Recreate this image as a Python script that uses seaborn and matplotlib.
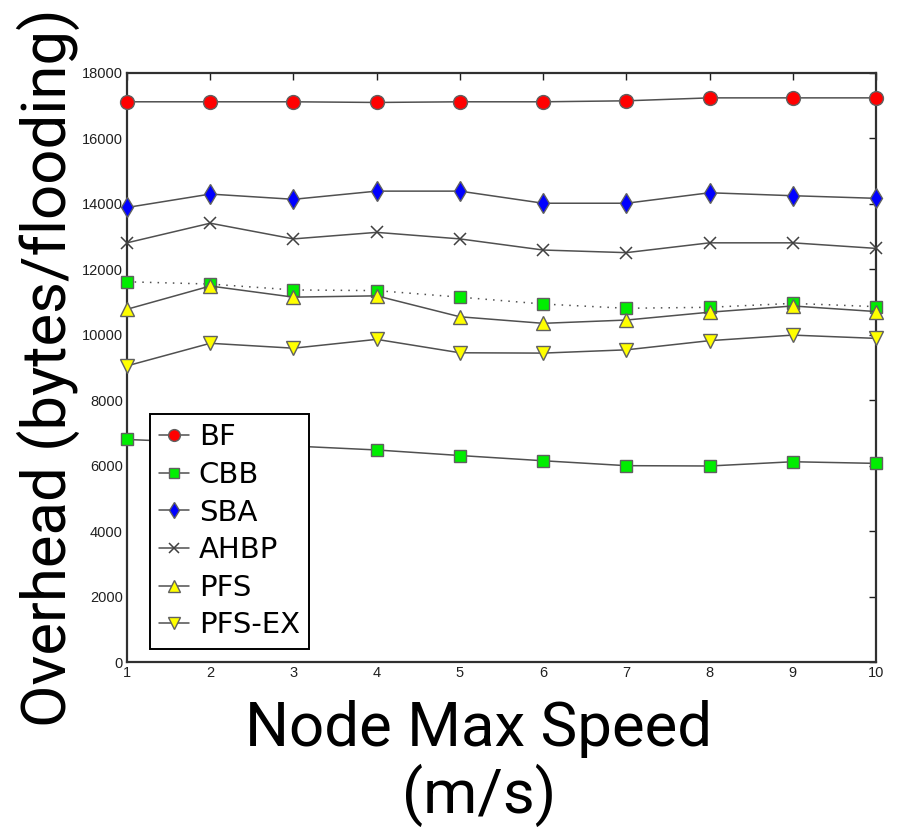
import matplotlib
matplotlib.use("Agg")
import matplotlib.pyplot as plt
import seaborn as sns
import numpy as np

speed = [1, 2, 3, 4, 5, 6, 7, 8, 9, 10]
bf = [17120, 17120, 17120, 17100, 17120, 17120, 17150, 17240, 17240, 17240]
cbb = [6800, 6700, 6600, 6480, 6310, 6150, 6000, 5990, 6120, 6070]
sba = [13890, 14300, 14140, 14390, 14390, 14020, 14020, 14340, 14250, 14170]
ahbp = [12810, 13410, 12930, 13130, 12930, 12590, 12510, 12810, 12810, 12640]
cbb_dotted = [11620, 11550, 11370, 11350, 11150, 10940, 10810, 10840, 10960, 10860]
pfs = [10780, 11490, 11150, 11190, 10550, 10350, 10450, 10690, 10880, 10710]
pfs_ex = [9050, 9740, 9590, 9860, 9450, 9440, 9540, 9820, 9990, 9890]
yticks = list(range(0, 18001, 2000))

sns.set_style("white")
plt.rcParams['font.family'] = ['DejaVu Sans']
plt.rcParams['text.color'] = 'black'
plt.rcParams['axes.labelcolor'] = 'black'

fig = plt.figure(figsize=(8.97, 8.36), dpi=100)
ax = fig.add_axes([127/897, 1-662/836, (876-127)/897, (662-73)/836])

line_col = '#505050'
edge = '#606060'
common = dict(ax=ax, color=line_col, linewidth=1.1, clip_on=False, zorder=3)

sns.lineplot(x=speed, y=cbb_dotted, marker='s', markersize=8.5, markerfacecolor='#00ee00',
             markeredgecolor=edge, markeredgewidth=1, linestyle=(0, (1, 4)), label='_nolegend_', **common)
sns.lineplot(x=speed, y=bf, marker='o', markersize=10, markerfacecolor='#ff0000',
             markeredgecolor=edge, markeredgewidth=1, label='BF', **common)
sns.lineplot(x=speed, y=cbb, marker='s', markersize=8.5, markerfacecolor='#00ee00',
             markeredgecolor=edge, markeredgewidth=1, label='CBB', **common)
sns.lineplot(x=speed, y=sba, marker='d', markersize=10, markerfacecolor='#0000ff',
             markeredgecolor=edge, markeredgewidth=1, label='SBA', **common)
sns.lineplot(x=speed, y=ahbp, marker='x', markersize=9, markerfacecolor='none',
             markeredgecolor='#404040', markeredgewidth=1.1, label='AHBP', **common)
sns.lineplot(x=speed, y=pfs, marker='^', markersize=10.5, markerfacecolor='#ffff00',
             markeredgecolor=edge, markeredgewidth=1, label='PFS', **common)
sns.lineplot(x=speed, y=pfs_ex, marker='v', markersize=10.5, markerfacecolor='#ffff00',
             markeredgecolor=edge, markeredgewidth=1, label='PFS-EX', **common)

ax.set_xlim(1, 10)
ax.set_ylim(0, 18000)
ax.set_xticks(speed)
ax.set_yticks(yticks)
ax.set_xticklabels([str(s) for s in speed], fontfamily='Liberation Sans', fontsize=10.5)
ax.set_yticklabels([str(t) for t in yticks], fontfamily='Liberation Sans', fontsize=10.5)
ax.tick_params(direction='in', length=5, width=1, top=True, right=True, colors='#202020', pad=3)
for s in ax.spines.values():
    s.set_visible(True)
    s.set_color('#303030')
    s.set_linewidth(1.6)

ax.set_xlabel('Node Max Speed\n(m/s)', fontfamily='Roboto', fontsize=44.5, linespacing=1.12,
              color='black')
ax.xaxis.set_label_coords(0.47, -0.064)
ax.xaxis.label.set_verticalalignment('top')
ax.set_ylabel('Overhead (bytes/flooding)', fontfamily='Roboto', fontsize=44.5, color='black')
ax.yaxis.set_label_coords(-0.063, 0.5)

leg = ax.legend(loc='upper left', bbox_to_anchor=(150/897, 1-414/836), bbox_transform=fig.transFigure,
                borderaxespad=0, fontsize=21, handlelength=1.0, handletextpad=0.35,
                labelspacing=0.33, borderpad=0.32, fancybox=False, framealpha=1,
                edgecolor='black', markerscale=0.85)
leg.get_frame().set_linewidth(1.4)
for t in leg.get_texts():
    t.set_color('black')

fig.savefig('out.png', dpi=100)
